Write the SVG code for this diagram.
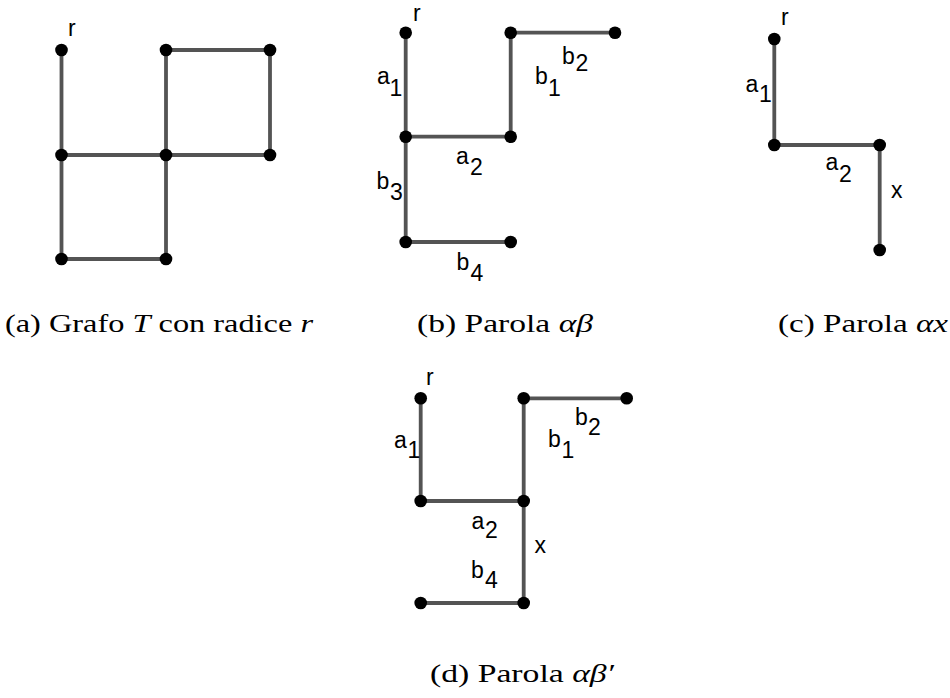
<svg xmlns="http://www.w3.org/2000/svg" width="950" height="698" viewBox="0 0 950 698">
<style>
.e{stroke:#545454;stroke-width:3.8;fill:none;stroke-linecap:butt}
.n{fill:#000}
.l{font-family:"Liberation Sans",Arial,sans-serif;font-size:23px;fill:#000}
.halo{paint-order:stroke;stroke:#fff;stroke-width:3}
.cap{font-family:"Liberation Serif","Times New Roman",serif;font-size:25px;fill:#000}
.it{font-style:italic}
</style>
<rect width="950" height="698" fill="#fff"/>

<!-- Panel (a) -->
<g id="a-edges">
<path class="e" d="M61.5 50V259M61.5 155H270M61.5 259H166M166 50V259M166 50H270V155"/>
</g>
<g id="a-r"><circle class="n" cx="61.5" cy="50" r="6.3"/></g>
<g id="a-n2"><circle class="n" cx="166" cy="50" r="6.3"/></g>
<g id="a-n3"><circle class="n" cx="270" cy="50" r="6.3"/></g>
<g id="a-n4"><circle class="n" cx="61.5" cy="155" r="6.3"/></g>
<g id="a-n5"><circle class="n" cx="166" cy="155" r="6.3"/></g>
<g id="a-n6"><circle class="n" cx="270" cy="155" r="6.3"/></g>
<g id="a-n7"><circle class="n" cx="61.5" cy="259" r="6.3"/></g>
<g id="a-n8"><circle class="n" cx="166" cy="259" r="6.3"/></g>
<text class="l" x="68" y="36">r</text>
<text class="cap" x="5" y="332" textLength="308" lengthAdjust="spacingAndGlyphs">(a) Grafo <tspan class="it">T</tspan> con radice <tspan class="it">r</tspan></text>

<!-- Panel (b) -->
<g id="b-edges">
<path class="e" d="M405.7 32.7V242H510.7M405.7 136.7H510.7V32.7H615"/>
</g>
<g id="b-r"><circle class="n" cx="405.7" cy="32.7" r="6.3"/></g>
<g id="b-n2"><circle class="n" cx="510.7" cy="32.7" r="6.3"/></g>
<g id="b-n3"><circle class="n" cx="615" cy="32.7" r="6.3"/></g>
<g id="b-n4"><circle class="n" cx="405.7" cy="136.7" r="6.3"/></g>
<g id="b-n5"><circle class="n" cx="510.7" cy="136.7" r="6.3"/></g>
<g id="b-n6"><circle class="n" cx="405.7" cy="242" r="6.3"/></g>
<g id="b-n7"><circle class="n" cx="510.7" cy="242" r="6.3"/></g>
<g id="b-labels">
<text class="l" x="413" y="20.5">r</text>
<text class="l" x="377" y="84">a<tspan x="389.5" y="95.5">1</tspan></text>
<text class="l" x="562" y="63.5">b<tspan x="575.5" y="70.5">2</tspan></text>
<text class="l" x="535" y="83.5">b<tspan x="548" y="95.5">1</tspan></text>
<text class="l" x="456" y="163.5">a<tspan x="470" y="175">2</tspan></text>
<text class="l" x="376.5" y="188.5">b<tspan class="halo" x="390" y="200">3</tspan></text>
<text class="l" x="456.5" y="270">b<tspan x="470.5" y="280.5">4</tspan></text>
</g>
<text class="cap" x="417" y="332" textLength="176" lengthAdjust="spacingAndGlyphs">(b) Parola <tspan class="it">αβ</tspan></text>

<!-- Panel (c) -->
<g id="c-edges">
<path class="e" d="M774.3 39V145H879.7V250"/>
</g>
<g id="c-r"><circle class="n" cx="774.3" cy="39" r="6.3"/></g>
<g id="c-n2"><circle class="n" cx="774.3" cy="145" r="6.3"/></g>
<g id="c-n3"><circle class="n" cx="879.7" cy="145" r="6.3"/></g>
<g id="c-n4"><circle class="n" cx="879.7" cy="250" r="6.3"/></g>
<g id="c-labels">
<text class="l" x="781" y="24.5">r</text>
<text class="l" x="745.5" y="91.7">a<tspan x="759" y="101.7">1</tspan></text>
<text class="l" x="825.5" y="170">a<tspan x="839" y="181.5">2</tspan></text>
<text class="l" x="891" y="198">x</text>
</g>
<text class="cap" x="778" y="332" textLength="170" lengthAdjust="spacingAndGlyphs">(c) Parola <tspan class="it">αx</tspan></text>

<!-- Panel (d) -->
<g id="d-edges">
<path class="e" d="M420.7 398.3V501H523.7M420.7 603H523.7V398.3H626.7"/>
</g>
<g id="d-r"><circle class="n" cx="420.7" cy="398.3" r="6.3"/></g>
<g id="d-n2"><circle class="n" cx="523.7" cy="398.3" r="6.3"/></g>
<g id="d-n3"><circle class="n" cx="626.7" cy="398.3" r="6.3"/></g>
<g id="d-n4"><circle class="n" cx="420.7" cy="501" r="6.3"/></g>
<g id="d-n5"><circle class="n" cx="523.7" cy="501" r="6.3"/></g>
<g id="d-n6"><circle class="n" cx="420.7" cy="603" r="6.3"/></g>
<g id="d-n7"><circle class="n" cx="523.7" cy="603" r="6.3"/></g>
<g id="d-labels">
<text class="l" x="426" y="385">r</text>
<text class="l" x="394" y="448">a<tspan x="407.5" y="458">1</tspan></text>
<text class="l" x="575" y="425">b<tspan x="588" y="435">2</tspan></text>
<text class="l" x="548" y="446.7">b<tspan x="561.5" y="458">1</tspan></text>
<text class="l" x="471.5" y="529">a<tspan x="485" y="538">2</tspan></text>
<text class="l" x="534.5" y="553">x</text>
<text class="l" x="471" y="578">b<tspan x="485" y="588">4</tspan></text>
</g>
<text class="cap" x="430" y="682" textLength="184" lengthAdjust="spacingAndGlyphs">(d) Parola <tspan class="it">αβ′</tspan></text>
</svg>
